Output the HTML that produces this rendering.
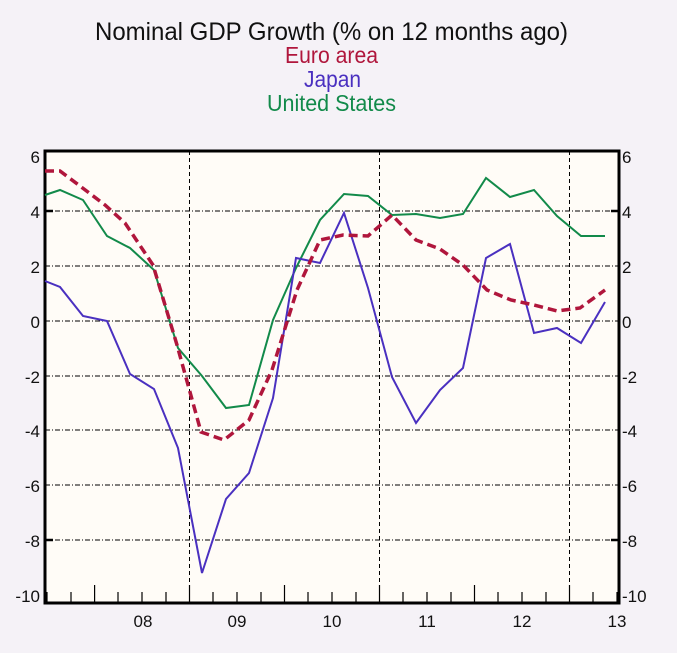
<!DOCTYPE html>
<html><head><meta charset="utf-8"><style>
html,body{margin:0;padding:0;background:#f5f2f7;}
svg{display:block;font-family:"Liberation Sans Narrow","Liberation Sans",sans-serif;}
</style></head><body>
<svg width="677" height="653" viewBox="0 0 677 653">
<rect width="677" height="653" fill="#f5f2f7"/>
<text x="95" y="40" font-size="25" fill="#111" textLength="473" lengthAdjust="spacingAndGlyphs">Nominal GDP Growth (% on 12 months ago)</text>
<text x="285" y="63" font-size="23" fill="#b0163c" textLength="93" lengthAdjust="spacingAndGlyphs">Euro area</text>
<text x="304" y="87" font-size="23" fill="#4a30c0" textLength="57" lengthAdjust="spacingAndGlyphs">Japan</text>
<text x="267" y="111" font-size="23" fill="#128a4a" textLength="129" lengthAdjust="spacingAndGlyphs">United States</text>
<rect x="45" y="151" width="574" height="452" fill="#fffcf7"/>
<g stroke="#000" stroke-width="1" stroke-dasharray="5,2,1,2">
<line x1="45" x2="619" y1="211" y2="211"/>
<line x1="45" x2="619" y1="266" y2="266"/>
<line x1="45" x2="619" y1="321" y2="321"/>
<line x1="45" x2="619" y1="376" y2="376"/>
<line x1="45" x2="619" y1="430" y2="430"/>
<line x1="45" x2="619" y1="485" y2="485"/>
<line x1="45" x2="619" y1="540" y2="540"/>
</g>
<g stroke="#000" stroke-width="1" stroke-dasharray="4,3">
<line x1="189.5" x2="189.5" y1="151" y2="603"/>
<line x1="379.5" x2="379.5" y1="151" y2="603"/>
<line x1="569.5" x2="569.5" y1="151" y2="603"/>
</g>
<g stroke="#000" stroke-width="1.2">
<line x1="47" x2="47" y1="603" y2="592"/><line x1="71" x2="71" y1="603" y2="592"/>
<line x1="94.6" x2="94.6" y1="603" y2="585"/><line x1="118" x2="118" y1="603" y2="592"/>
<line x1="142" x2="142" y1="603" y2="592"/><line x1="166" x2="166" y1="603" y2="592"/>
<line x1="189.5" x2="189.5" y1="603" y2="585"/><line x1="213" x2="213" y1="603" y2="592"/>
<line x1="237" x2="237" y1="603" y2="592"/><line x1="261" x2="261" y1="603" y2="592"/>
<line x1="284.5" x2="284.5" y1="603" y2="585"/><line x1="308" x2="308" y1="603" y2="592"/>
<line x1="332" x2="332" y1="603" y2="592"/><line x1="356" x2="356" y1="603" y2="592"/>
<line x1="379.5" x2="379.5" y1="603" y2="585"/><line x1="403" x2="403" y1="603" y2="592"/>
<line x1="427" x2="427" y1="603" y2="592"/><line x1="451" x2="451" y1="603" y2="592"/>
<line x1="474.5" x2="474.5" y1="603" y2="585"/><line x1="498" x2="498" y1="603" y2="592"/>
<line x1="522" x2="522" y1="603" y2="592"/><line x1="546" x2="546" y1="603" y2="592"/>
<line x1="569.5" x2="569.5" y1="603" y2="585"/><line x1="593" x2="593" y1="603" y2="592"/>
<line x1="617" x2="617" y1="603" y2="592"/>
</g>
<g stroke="#000" stroke-width="2.5">
<line x1="45" x2="53" y1="211" y2="211"/><line x1="45" x2="53" y1="540" y2="540"/>
<line x1="611" x2="619" y1="211" y2="211"/><line x1="611" x2="619" y1="540" y2="540"/>
</g>
<rect x="45" y="151" width="574" height="452" fill="none" stroke="#000" stroke-width="3"/>
<polyline fill="none" stroke="#128a4a" stroke-width="2" points="45,195 60,190 83,200 107,236 130,248 154,270 178,348 202,376 226,408 249,405 273,320 296,268 320,220 344,194 368,196 392,215 416,214 440,218 463,214 486,178 510,197 534,190 557,216 581,236 605,236"/>
<polyline fill="none" stroke="#4a30c0" stroke-width="2" points="45,281 60,287 83,316 107,321 130,374 154,389 178,448 202,573 226,499 249,473 273,398 296,258 320,263 344,213 368,288 392,377 416,423 440,390 463,368 486,258 510,244 534,333 557,328 581,343 605,302"/>
<polyline fill="none" stroke="#b0163c" stroke-width="3.5" stroke-dasharray="9,5" points="45,171 60,171 80,186 105,205 125,223 153,265 177,345 201,432 224,440 249,420 272,370 297,290 320,240 343,235 368,236 392,215 416,240 440,249 463,265 487,290 511,300 534,305 557,311 580,308 605,290"/>
<g font-size="17" fill="#111" text-anchor="end">
<text x="40" y="163">6</text><text x="40" y="218">4</text><text x="40" y="273">2</text><text x="40" y="328">0</text>
<text x="40" y="383">-2</text><text x="40" y="437">-4</text><text x="40" y="492">-6</text><text x="40" y="547">-8</text><text x="40" y="602">-10</text>
</g>
<g font-size="17" fill="#111" text-anchor="start">
<text x="622" y="163">6</text><text x="622" y="218">4</text><text x="622" y="273">2</text><text x="622" y="328">0</text>
<text x="622" y="383">-2</text><text x="622" y="437">-4</text><text x="622" y="492">-6</text><text x="622" y="547">-8</text><text x="622" y="602">-10</text>
</g>
<g font-size="17" fill="#111" text-anchor="middle">
<text x="143" y="627">08</text><text x="237" y="627">09</text><text x="332" y="627">10</text>
<text x="427" y="627">11</text><text x="522" y="627">12</text><text x="617" y="627">13</text>
</g>
</svg>
</body></html>
